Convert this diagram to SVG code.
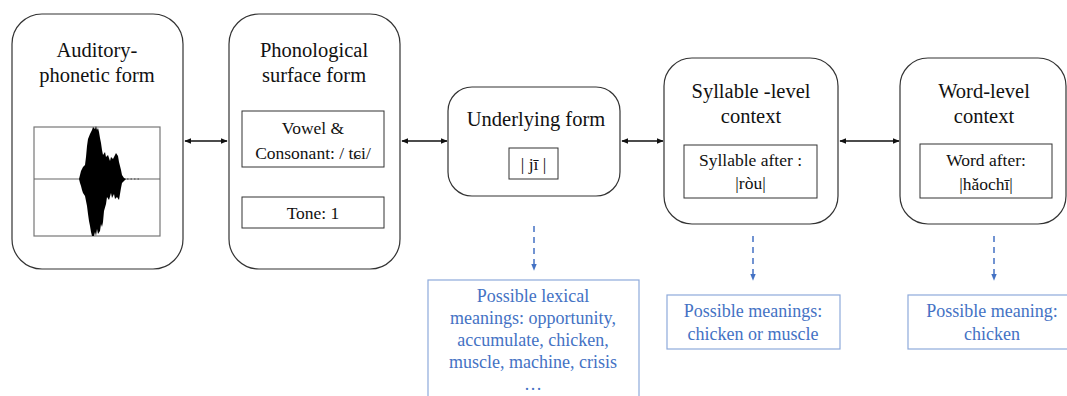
<svg xmlns="http://www.w3.org/2000/svg" width="1067" height="396" viewBox="0 0 1067 396">
<style>
.node{fill:#fff;stroke:#333;stroke-width:1.2}
.inner{fill:#fff;stroke:#333;stroke-width:1}
text{font-family:"Liberation Serif","Times New Roman",Times,"DejaVu Serif",serif;text-anchor:middle}
.title{font-size:20.5px;fill:#111}
.itext{font-size:17.5px;fill:#111}
.btext{font-size:18px;fill:#4472C4}
.bbox{fill:#fff;stroke:#8EAADB;stroke-width:1.2}
.conn{stroke:#111;stroke-width:1.5;fill:none}
.dash{stroke:#4472C4;stroke-width:1.5;fill:none;stroke-dasharray:6,5}
</style>
<defs>
<marker id="ah" viewBox="0 0 10 10" refX="9" refY="5" markerWidth="7" markerHeight="7" orient="auto-start-reverse" markerUnits="userSpaceOnUse">
<path d="M0,1 L10,5 L0,9 z" fill="#111"/>
</marker>
<marker id="bh" viewBox="0 0 10 10" refX="9" refY="5" markerWidth="7" markerHeight="7" orient="auto" markerUnits="userSpaceOnUse">
<path d="M0,1 L10,5 L0,9 z" fill="#4472C4"/>
</marker>
</defs>
<rect width="1067" height="396" fill="#fff"/>

<g id="connectors">
<line class="conn" x1="185" y1="141" x2="227" y2="141" marker-start="url(#ah)" marker-end="url(#ah)"/>
<line class="conn" x1="402" y1="141" x2="447" y2="141" marker-start="url(#ah)" marker-end="url(#ah)"/>
<line class="conn" x1="622" y1="141" x2="663" y2="141" marker-start="url(#ah)" marker-end="url(#ah)"/>
<line class="conn" x1="840" y1="141" x2="899" y2="141" marker-start="url(#ah)" marker-end="url(#ah)"/>
<line class="dash" x1="534" y1="226" x2="534" y2="270" marker-end="url(#bh)"/>
<line class="dash" x1="753" y1="236" x2="753" y2="280" marker-end="url(#bh)"/>
<line class="dash" x1="994" y1="236" x2="994" y2="280" marker-end="url(#bh)"/>
</g>

<g id="auditory">
<rect class="node" x="12" y="14" width="171" height="255" rx="30"/>
<text class="title" x="97" y="57">Auditory-</text>
<text class="title" x="97" y="82">phonetic form</text>
<rect x="34" y="127" width="126" height="109" fill="#fff" stroke="#777" stroke-width="1.2"/>
<line x1="34" y1="179" x2="160" y2="179" stroke="#666" stroke-width="1.2"/>
<path d="M79,179 L80,175 L81,171 L83,167 L85,165 L86,157 L87,146 L88,139 L90,134 L92,130 L93,127 L95,129 L96,126 L97,130 L98,128 L99,132 L100,138 L101,143 L102,150 L103,155 L105,152 L106,157 L108,155 L110,161 L111,157 L113,159 L115,155 L116,153 L118,156 L119,162 L120,166 L121,170 L122,175 L124,178 L126,179 L124,181 L122,183 L121,188 L120,194 L119,200 L117,197 L115,199 L114,194 L112,198 L111,193 L109,200 L107,197 L106,204 L104,211 L103,222 L102,227 L101,224 L100,231 L98,234 L97,229 L96,236 L95,232 L94,236 L92,236 L91,232 L90,226 L89,221 L88,214 L87,206 L86,201 L85,196 L83,193 L82,190 L81,186 L80,183 Z" fill="#000"/>
<path d="M127,179 H141" stroke="#444" stroke-width="1" stroke-dasharray="1.5,2"/>
</g>

<g id="phonological">
<rect class="node" x="229" y="14" width="171" height="255" rx="30"/>
<text class="title" x="314" y="57">Phonological</text>
<text class="title" x="314" y="82">surface form</text>
<rect class="inner" x="242" y="111" width="142" height="56"/>
<text class="itext" x="313" y="134">Vowel &amp;</text>
<text class="itext" x="313" y="159">Consonant: / tɕi/</text>
<rect class="inner" x="242" y="197" width="142" height="31"/>
<text class="itext" x="313" y="219">Tone: 1</text>
</g>

<g id="underlying">
<rect class="node" x="448" y="87" width="172" height="109" rx="24"/>
<text class="title" x="536" y="126">Underlying form</text>
<rect class="inner" x="509" y="148" width="49" height="31"/>
<text class="itext" x="533.5" y="170">| jī |</text>
</g>

<g id="syllable">
<rect class="node" x="664" y="58" width="174" height="166" rx="28"/>
<text class="title" x="751" y="98">Syllable -level</text>
<text class="title" x="751" y="123">context</text>
<rect class="inner" x="684" y="145" width="133" height="53"/>
<text class="itext" x="750.5" y="166">Syllable after :</text>
<text class="itext" x="750.5" y="189">|ròu|</text>
</g>

<g id="word">
<rect class="node" x="900" y="58" width="166" height="166" rx="28"/>
<text class="title" x="984" y="98">Word-level</text>
<text class="title" x="984" y="123">context</text>
<rect class="inner" x="920" y="144" width="132" height="54"/>
<text class="itext" x="986" y="166">Word after:</text>
<text class="itext" x="986" y="190">|hǎochī|</text>
</g>

<g id="meanings-lexical">
<rect class="bbox" x="428" y="280" width="211" height="130"/>
<text class="btext" x="533" y="302">Possible lexical</text>
<text class="btext" x="533" y="324">meanings: opportunity,</text>
<text class="btext" x="533" y="346">accumulate, chicken,</text>
<text class="btext" x="533" y="368">muscle, machine, crisis</text>
<text class="btext" x="533" y="390">…</text>
</g>

<g id="meanings-syllable">
<rect class="bbox" x="667" y="295" width="173" height="54"/>
<text class="btext" x="753" y="317">Possible meanings:</text>
<text class="btext" x="753" y="340">chicken or muscle</text>
</g>

<g id="meanings-word">
<rect class="bbox" x="908" y="295" width="162" height="54"/>
<text class="btext" x="992" y="317">Possible meaning:</text>
<text class="btext" x="992" y="340">chicken</text>
</g>
</svg>
